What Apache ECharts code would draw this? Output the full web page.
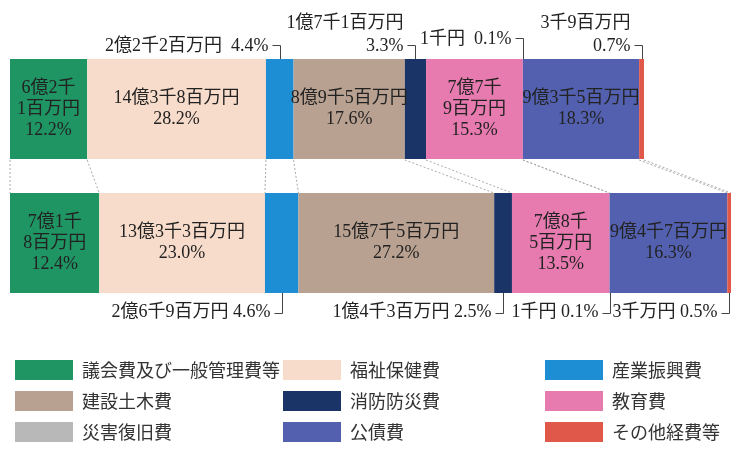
<!DOCTYPE html>
<html>
<head>
<meta charset="utf-8">
<script src="https://cdn.jsdelivr.net/npm/echarts@6/dist/echarts.min.js"></script>
<style>
  html, body { margin: 0; padding: 0; background: #fff; }
  #chart { width: 739px; height: 450px; }
</style>
</head>
<body>
<div id="chart"></div>
<script>
// 歳出の内訳（単位：百万円）
const categories = ['議会費及び一般管理費等', '福祉保健費', '産業振興費', '建設土木費', '消防防災費', '教育費', '災害復旧費', '公債費', 'その他経費等'];
const years = ['前年度', '本年度'];

const amountsTop = [621, 1438, 222, 895, 171, 779, 0.001, 935, 39];
const amountsBottom = [718, 1333, 269, 1575, 143, 785, 0.001, 947, 30];

const amountTextTop = ['6億2千1百万円', '14億3千8百万円', '2億2千2百万円', '8億9千5百万円', '1億7千1百万円', '7億7千9百万円', '1千円', '9億3千5百万円', '3千9百万円'];
const amountTextBottom = ['7億1千8百万円', '13億3千3百万円', '2億6千9百万円', '15億7千5百万円', '1億4千3百万円', '7億8千5百万円', '1千円', '9億4千7百万円', '3千万円'];

const pctTop = [12.2, 28.2, 4.4, 17.6, 3.3, 15.3, 0.1, 18.3, 0.7];
const pctBottom = [12.4, 23.0, 4.6, 27.2, 2.5, 13.5, 0.1, 16.3, 0.5];

const colors = ['#1f9563', '#f8dccb', '#1e8ed4', '#b8a190', '#1b3468', '#e77aaf', '#b8b8b8', '#5360b0', '#e0584a'];

const BAR_WIDTH = 100;
const BAR_HALF = BAR_WIDTH / 2;
const SERIF = '"Liberation Serif", "Noto Sans CJK JP", serif';
const FONT_SIZE = 18;

// 上段で2行に折り返す吹き出し、少し持ち上げる吹き出し
const topWrap = ['消防防災費', 'その他経費等'];
const topLift = { '災害復旧費': 7 };

const rows = [
	{ amounts: amountsTop, texts: amountTextTop, pcts: pctTop },
	{ amounts: amountsBottom, texts: amountTextBottom, pcts: pctBottom },
];

function cumulative(arr) {
	const out = [0];
	arr.forEach((v) => out.push(out[out.length - 1] + v));
	return out;
}

function insideText(i, r) {
	const row = rows[r];
	let amt = row.texts[i];
	if (row.amounts[i] < 850) amt = amt.replace('千', '千\n');
	return amt + '\n' + row.pcts[i].toFixed(1) + '%';
}

// 区切りの点線
const cumTop = cumulative(amountsTop);
const cumBottom = cumulative(amountsBottom);
const connectorData = cumTop.map((v, k) => [v, cumBottom[k], 0]);

// 小さい項目の吹き出し
const calloutData = [];
rows.forEach((row, r) => {
	const cum = r === 0 ? cumTop : cumBottom;
	row.amounts.forEach((v, i) => {
		if (v < 400) calloutData.push([cum[i] + v / 2, r, i]);
	});
});

function renderConnector(params, api) {
	const a = api.coord([api.value(0), 0]);
	const b = api.coord([api.value(1), 1]);
	return {
		type: 'line',
		shape: { x1: a[0], y1: a[1] + BAR_HALF + 1, x2: b[0], y2: b[1] - BAR_HALF },
		style: { stroke: '#a9a9a9', lineWidth: 1, lineDash: [2, 2] },
	};
}

function renderCallout(params, api) {
	const r = api.value(1);
	const i = api.value(2);
	const p = api.coord([api.value(0), r]);
	const cx = Math.round(p[0]) + 0.5;
	const row = rows[r];
	const name = categories[i];
	const pct = row.pcts[i].toFixed(1) + '%';
	let points;
	let text;
	let ty;
	let va;
	if (r === 0) {
		const edge = p[1] - BAR_HALF;
		const hy = Math.round(edge - 14 - (topLift[name] || 0)) + 0.5;
		points = [[cx - 8, hy], [cx, hy], [cx, edge]];
		text = topWrap.indexOf(name) >= 0 ? row.texts[i] + '\n' + pct : row.texts[i] + '  ' + pct;
		ty = hy + 12;
		va = 'bottom';
	} else {
		const edge = p[1] + BAR_HALF;
		const hy = Math.round(edge + 20) + 0.5;
		points = [[cx, edge], [cx, hy], [cx - 8, hy]];
		text = row.texts[i] + ' ' + pct;
		ty = hy - 1;
		va = 'middle';
	}
	return {
		type: 'group',
		children: [
			{ type: 'polyline', shape: { points }, style: { stroke: '#444', lineWidth: 1, fill: null } },
			{
				type: 'text',
				style: {
					text, x: cx - 12, y: ty, align: 'right', verticalAlign: va,
					fontFamily: SERIF, fontSize: FONT_SIZE, lineHeight: 23, fill: '#222',
				},
			},
		],
	};
}

const legendBase = {
	orient: 'vertical',
	top: 360,
	padding: 0,
	itemWidth: 58,
	itemHeight: 20,
	itemGap: 11,
	icon: 'rect',
	selectedMode: false,
	textStyle: { fontFamily: '"Noto Sans CJK JP", sans-serif', fontSize: 18, color: '#333', padding: [0, 0, 0, 4] },
};

const chart = echarts.init(document.getElementById('chart'), null, { renderer: 'canvas' });
chart.setOption({
	animation: false,
	grid: { left: 10, right: 8, top: 42, height: 268 },
	xAxis: { type: 'value', min: 0, max: 5800, show: false },
	yAxis: { type: 'category', data: years, inverse: true, show: false },
	legend: [
		Object.assign({}, legendBase, { left: 15, data: [categories[0], categories[3], categories[6]] }),
		Object.assign({}, legendBase, { left: 283, data: [categories[1], categories[4], categories[7]] }),
		Object.assign({}, legendBase, { left: 545, data: [categories[2], categories[5], categories[8]] }),
	],
	series: categories.map((name, i) => ({
		name,
		type: 'bar',
		stack: 'total',
		barWidth: BAR_WIDTH,
		data: [amountsTop[i], amountsBottom[i]],
		itemStyle: { color: colors[i] },
		emphasis: { disabled: true },
		label: {
			show: amountsTop[i] > 400,
			position: 'inside',
			formatter: (p) => insideText(i, p.dataIndex),
			fontFamily: SERIF,
			fontSize: FONT_SIZE,
			lineHeight: 21,
			color: '#222',
		},
	})).concat([
		{
			type: 'custom',
			silent: true,
			renderItem: renderConnector,
			encode: { x: 0, y: 2 },
			data: connectorData,
			z: 1,
		},
		{
			type: 'custom',
			silent: true,
			renderItem: renderCallout,
			encode: { x: 0, y: 1 },
			data: calloutData,
			z: 5,
		},
	]),
});
</script>
</body>
</html>
